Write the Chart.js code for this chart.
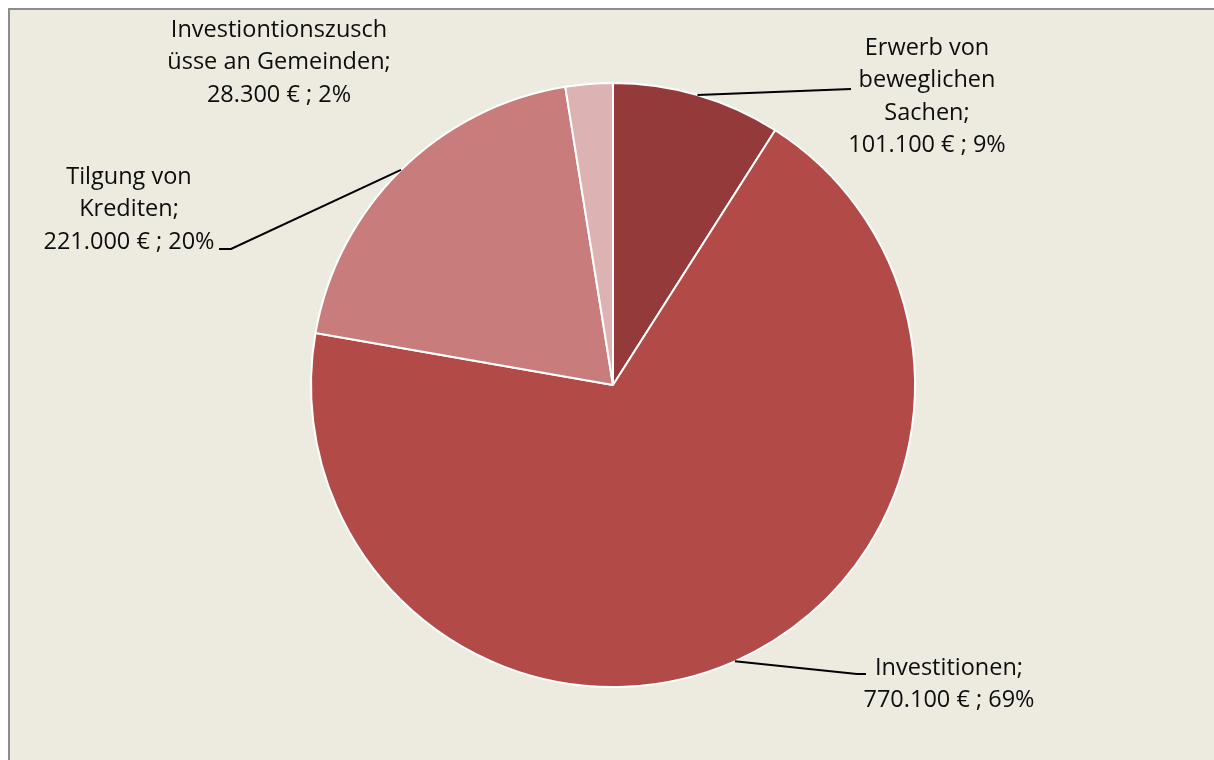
<!DOCTYPE html>
<html>
<head>
<meta charset="utf-8">
<script src="https://cdn.jsdelivr.net/npm/chart.js@4.4.1/dist/chart.umd.min.js"></script>
<style>
  html, body { margin: 0; padding: 0; background: #ffffff; overflow: hidden; }
  #frame {
    position: absolute; left: 8px; top: 8px; width: 1230px; height: 780px;
    background: #edeae0; border: 2px solid #8c8c8c;
  }
  #pie { position: absolute; left: 0; top: 0; }
</style>
</head>
<body>
<div id="frame"></div>
<canvas id="pie" width="1214" height="760"></canvas>
<script>
// Ausgaben nach Art
const categories = [
  ["Erwerb von", "beweglichen", "Sachen;"],
  ["Investitionen;"],
  ["Tilgung von", "Krediten;"],
  ["Investiontionszusch", "üsse an Gemeinden;"]
];
const amounts = [101100, 770100, 221000, 28300];
const percentLabels = ["9%", "69%", "20%", "2%"];
const sliceColors = ["#953a3a", "#b24a48", "#c97c7c", "#ddb2b2"];

// where each label block sits and how its leader line bends
const labelLayout = [
  { cx: 927, y: 48, line: [[851, 89]] },
  { cx: 949, y: 668, line: [[857, 674], [866, 674]] },
  { cx: 129, y: 177, line: [[231, 249], [219, 249]] },
  { cx: 279, y: 30, line: null }
];

const fmtEuro = (v) => String(v).replace(/\B(?=(\d{3})+(?!\d))/g, ".") + " €";

const pieLabels = {
  id: "pieLabels",
  afterDatasetsDraw(chart) {
    const { ctx } = chart;
    const arcs = chart.getDatasetMeta(0).data;
    ctx.save();
    arcs.forEach((arc, i) => {
      const lay = labelLayout[i];
      if (lay.line) {
        const mid = (arc.startAngle + arc.endAngle) / 2;
        const r = arc.outerRadius;
        ctx.beginPath();
        ctx.moveTo(arc.x + Math.cos(mid) * r, arc.y + Math.sin(mid) * r);
        lay.line.forEach(([x, y]) => ctx.lineTo(x, y));
        ctx.strokeStyle = "#000000";
        ctx.lineWidth = 2;
        ctx.stroke();
      }
      const lines = [...categories[i], fmtEuro(amounts[i]) + " ; " + percentLabels[i]];
      ctx.font = "23.5px 'Open Sans', Lato, sans-serif";
      ctx.fillStyle = "#0d0d0d";
      ctx.textAlign = "center";
      ctx.textBaseline = "middle";
      lines.forEach((t, k) => ctx.fillText(t, lay.cx, lay.y + k * 32.5));
    });
    ctx.restore();
  }
};

new Chart(document.getElementById("pie"), {
  type: "pie",
  data: {
    labels: categories.map((c) => c.join(" ")),
    datasets: [{
      data: amounts,
      backgroundColor: sliceColors,
      borderColor: "#ffffff",
      borderWidth: 2
    }]
  },
  options: {
    responsive: false,
    animation: false,
    devicePixelRatio: 1,
    layout: { padding: { left: 310, right: 298, top: 82, bottom: 72 } },
    plugins: {
      legend: { display: false },
      tooltip: { enabled: false }
    }
  },
  plugins: [pieLabels]
});
</script>
</body>
</html>
